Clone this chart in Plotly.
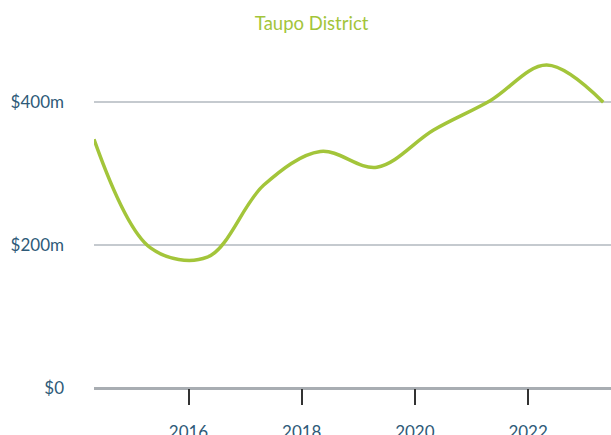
import plotly.graph_objects as go

# annual values, $m
dates = ["2014-05-01", "2015-05-01", "2016-05-01", "2017-05-01", "2018-05-01",
         "2019-05-01", "2020-05-01", "2021-05-01", "2022-05-01", "2023-05-01"]
values = [348, 196, 183, 284, 331, 309, 361, 402, 452, 400]

y_ticks = [0, 200, 400]
y_labels = ["$0", "$200m", "$400m"]

GREEN = "#a3c53a"
NAVY = "#2e5a78"

fig = go.Figure()
fig.add_trace(go.Scatter(
    x=dates, y=values,
    mode="lines",
    line=dict(color=GREEN, width=3.5, shape="spline", smoothing=1.0),
    hoverinfo="skip",
    showlegend=False,
))

fig.update_layout(
    width=611, height=435,
    margin=dict(l=94, r=0, t=50, b=47),
    paper_bgcolor="white",
    plot_bgcolor="white",
    font=dict(family="Lato, sans-serif", color=NAVY, size=17),
    title=dict(text="Taupo District", x=0.51, xanchor="center", y=0.945, yanchor="middle",
               font=dict(color=GREEN, size=18.5)),
    xaxis=dict(
        type="date",
        range=["2014-05-01", "2023-06-20"],
        tickvals=["2016-01-01", "2018-01-01", "2020-01-01", "2022-01-01"],
        ticktext=["2016", "2018", "2020", "2022"],
        ticks="outside", ticklen=16, tickwidth=2, tickcolor="#333333",
        ticklabelstandoff=13,
        showgrid=False, zeroline=False, showline=False,
        automargin=False,
        tickfont=dict(size=17, color=NAVY),
    ),
    yaxis=dict(
        range=[0, 473],
        tickvals=y_ticks, ticktext=y_labels,
        showgrid=True, gridcolor="#c5cacf", gridwidth=1.5,
        zeroline=True, zerolinecolor="#a8adb2", zerolinewidth=3,
        showline=False, ticks="",
        ticklabelstandoff=29,
        automargin=False,
        tickfont=dict(size=17, color=NAVY),
    ),
)

# drop the default page margin so the figure fills the window
fig.write_html("out.html",
               config={"displayModeBar": False},
               post_script="document.body.style.margin='0';document.body.style.overflow='hidden';")
